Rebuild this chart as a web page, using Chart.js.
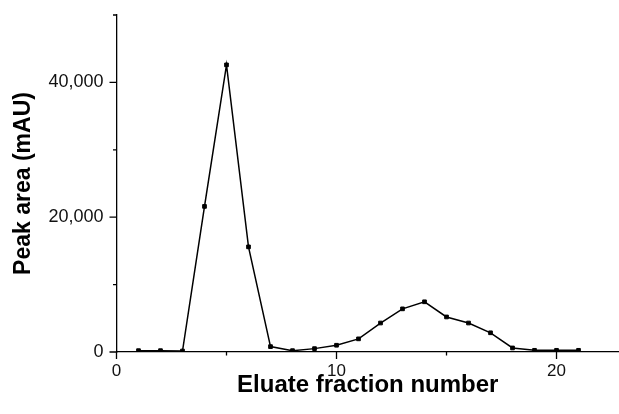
<!DOCTYPE html>
<html>
<head>
<meta charset="utf-8">
<script src="https://cdn.jsdelivr.net/npm/chart.js@4"></script>
<style>
  html, body { margin: 0; padding: 0; background: #fff; overflow: hidden; }
  #wrap { width: 619px; height: 414px; position: relative; }
  canvas { display: block; }
</style>
</head>
<body>
<div id="wrap"><canvas id="chart-1"></canvas></div>
<script>
// Données
const fractions = [1, 2, 3, 4, 5, 6, 7, 8, 9, 10, 11, 12, 13, 14, 15, 16, 17, 18, 19, 20, 21];
const peakArea = [200, 200, 150, 21600, 42600, 15600, 800, 200, 500, 1000, 1950, 4300, 6400, 7450, 5200, 4300, 2850, 600, 250, 250, 250];
const xTicks = [0, 5, 10, 15, 20];
const xLabels = [0, 10, 20];
const yTicks = [0, 10000, 20000, 30000, 40000, 50000];
const yLabels = [0, 20000, 40000];

const FONT = "'Liberation Sans', Arial, sans-serif";

// Petites et grandes graduations
const tickMarks = {
  id: 'tickMarks',
  afterDraw(chart) {
    const { ctx, scales: { x, y } } = chart;
    ctx.save();
    ctx.strokeStyle = '#000';
    ctx.lineWidth = 1.3;
    ctx.beginPath();
    xTicks.forEach(v => {
      const px = x.getPixelForValue(v);
      const len = xLabels.includes(v) ? 7 : 3.5;
      ctx.moveTo(px, x.top);
      ctx.lineTo(px, x.top + len);
    });
    yTicks.forEach(v => {
      const py = y.getPixelForValue(v);
      const len = yLabels.includes(v) ? 7 : 3.5;
      ctx.moveTo(y.right, py);
      ctx.lineTo(y.right - len, py);
    });
    ctx.stroke();
    ctx.restore();
  }
};

const ctx1 = document.getElementById("chart-1").getContext("2d");
const myChart1 = new Chart(ctx1, {
  type: "line",
  data: {
    datasets: [
      {
        data: fractions.map((f, i) => ({ x: f, y: peakArea[i] })),
        borderColor: "#000",
        borderWidth: 1.5,
        backgroundColor: "#000",
        pointStyle: "rect",
        pointRadius: 2.6,
        pointBorderWidth: 1,
        pointBorderColor: "#000",
        tension: 0,
      },
    ],
  },
  options: {
    responsive: true,
    maintainAspectRatio: false,
    animation: false,
    layout: { autoPadding: false, padding: { top: 15, right: 0, bottom: 0, left: 0 } },
    plugins: { legend: { display: false }, tooltip: { enabled: false } },
    scales: {
      x: {
        type: "linear",
        min: 0,
        max: 22.84,
        afterBuildTicks: (s) => { s.ticks = xTicks.map(v => ({ value: v })); },
        afterFit: (s) => { s.height = 62; s.paddingRight = 0; s.paddingLeft = 0; },
        grid: { drawOnChartArea: false, tickLength: 7, tickColor: "rgba(0,0,0,0)" },
        border: { color: "#000", width: 1.3 },
        ticks: {
          padding: 2,
          color: "#111",
          maxRotation: 0,
          font: { family: FONT, size: 17 },
          callback: (v) => xLabels.includes(v) ? String(v) : "",
        },
        title: {
          display: true,
          text: "Eluate fraction number",
          color: "#000",
          font: { family: FONT, size: 24, weight: "bold" },
          padding: { top: 0, bottom: 14 },
        },
      },
      y: {
        min: 0,
        max: 50000,
        afterBuildTicks: (s) => { s.ticks = yTicks.map(v => ({ value: v })); },
        afterFit: (s) => { s.width = 116.5; s.paddingTop = 0; s.paddingBottom = 0; },
        grid: { drawOnChartArea: false, tickLength: 7, tickColor: "rgba(0,0,0,0)" },
        border: { color: "#000", width: 1.3 },
        ticks: {
          padding: 6,
          color: "#111",
          font: { family: FONT, size: 18 },
          callback: (v) => yLabels.includes(v) ? v.toLocaleString("en-US") : "",
        },
        title: {
          display: true,
          text: "Peak area (mAU)",
          color: "#000",
          font: { family: FONT, size: 23, weight: "bold" },
          padding: { top: 10, bottom: 0 },
        },
      },
    },
  },
  plugins: [tickMarks],
});
</script>
</body>
</html>
